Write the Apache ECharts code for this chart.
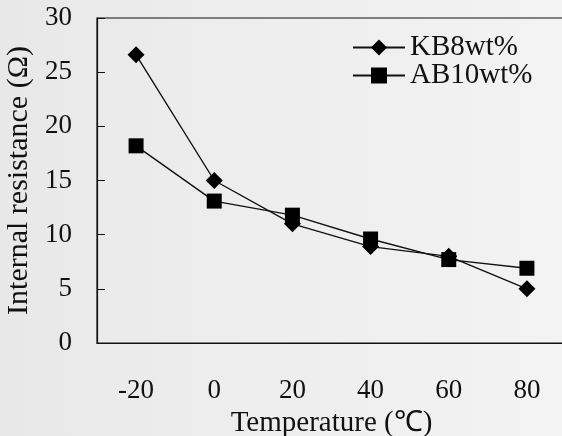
<!DOCTYPE html>
<html>
<head>
<meta charset="utf-8">
<title>Internal resistance vs temperature</title>
<script src="https://cdn.jsdelivr.net/npm/echarts@6/dist/echarts.min.js"></script>
<style>
  html, body { margin: 0; padding: 0; }
  #chart { width: 562px; height: 436px; }
</style>
</head>
<body>
<div id="chart"></div>
<script>
// Temperature categories (°C)
const temperatures = ['-20', '0', '20', '40', '60', '80'];
// Internal resistance (Ω) per conductive additive
const kb8wt = [26.6, 15.0, 11.0, 8.9, 8.0, 5.0];
const ab10wt = [18.2, 13.1, 11.8, 9.6, 7.7, 6.9];
const yTicks = { min: 0, max: 30, interval: 5 };

const serif = '"Liberation Serif", "Times New Roman", serif';
const ink = '#111';

const chart = echarts.init(document.getElementById('chart'), null, { renderer: 'canvas' });

chart.setOption({
  backgroundColor: {
    type: 'linear', x: 0, y: 0, x2: 1, y2: 0,
    colorStops: [
      { offset: 0, color: '#e8e8e8' },
      { offset: 0.5, color: '#eeeeee' },
      { offset: 1, color: '#f3f3f3' }
    ]
  },
  animation: false,
  textStyle: { fontFamily: serif, color: ink },
  // plot area runs slightly past the right edge of the canvas
  grid: {
    left: 97, top: 18, width: 469, height: 325,
    outerBoundsMode: 'none',
    containLabel: false,
    show: true, borderColor: ink, borderWidth: 1.2,
    backgroundColor: 'transparent'
  },
  legend: {
    left: 347, top: 28,
    orient: 'vertical',
    itemWidth: 52, itemHeight: 20, itemGap: -1,
    textStyle: { fontFamily: serif, fontSize: 29, color: ink },
    data: ['KB8wt%', 'AB10wt%']
  },
  xAxis: {
    type: 'category',
    data: temperatures,
    boundaryGap: true,
    name: 'Temperature (℃)',
    nameLocation: 'middle',
    nameGap: 64,
    nameTextStyle: { fontFamily: serif, fontSize: 29, color: ink },
    axisLine: { lineStyle: { color: ink, width: 1.2 } },
    axisTick: { inside: true, length: 8, lineStyle: { color: ink } },
    axisLabel: { fontFamily: serif, fontSize: 27, color: ink, margin: 34 },
    splitLine: { show: false }
  },
  yAxis: {
    type: 'value',
    min: yTicks.min, max: yTicks.max, interval: yTicks.interval,
    name: 'Internal resistance (Ω)',
    nameLocation: 'middle',
    nameGap: 61,
    nameTextStyle: { fontFamily: serif, fontSize: 30, color: ink },
    axisLine: { show: true, lineStyle: { color: ink, width: 1.2 } },
    axisTick: { show: true, inside: true, length: 8, lineStyle: { color: ink } },
    axisLabel: { fontFamily: serif, fontSize: 27, color: ink, margin: 25 },
    splitLine: { show: false }
  },
  series: [
    {
      name: 'KB8wt%',
      type: 'line',
      data: kb8wt,
      symbol: 'diamond',
      symbolSize: 17,
      itemStyle: { color: '#000' },
      lineStyle: { color: '#111', width: 1.4 }
    },
    {
      name: 'AB10wt%',
      type: 'line',
      data: ab10wt,
      symbol: 'rect',
      symbolSize: 15,
      itemStyle: { color: '#000' },
      lineStyle: { color: '#111', width: 1.4 }
    }
  ]
});
</script>
</body>
</html>
